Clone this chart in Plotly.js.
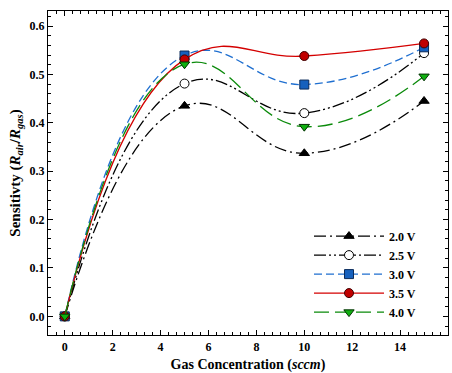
<!DOCTYPE html>
<html><head><meta charset="utf-8">
<script src="https://cdn.plot.ly/plotly-3.0.1.min.js"></script>
<style>html,body{margin:0;padding:0;background:#fff}#chart{width:452px;height:373px}</style>
</head><body><div id="chart"></div>
<script>
const gasConc = [0, 5, 10, 15];
const seriesNames = ["2.0 V", "2.5 V", "3.0 V", "3.5 V", "4.0 V"];
const v20 = [0, 0.435, 0.337, 0.445];
const v25 = [0, 0.481, 0.420, 0.544];
const v30 = [0, 0.539, 0.479, 0.556];
const v35 = [0, 0.531, 0.538, 0.564];
const v40 = [0, 0.521, 0.392, 0.496];
const xTicks = [0, 2, 4, 6, 8, 10, 12, 14, 16];
const yTicks = [0, 0.1, 0.2, 0.3, 0.4, 0.5, 0.6];

const styles = [
  {color:'#000000', dash:'12px,4px,2px,4px', symbol:'triangle-up', fill:'#000000', mline:'#000000'},
  {color:'#000000', dash:'12px,3px,2px,3px,2px,3px', symbol:'circle', fill:'#ffffff', mline:'#000000'},
  {color:'#1f6fd0', dash:'8px,4px', symbol:'square', fill:'#1560bd', mline:'#0a2a5a'},
  {color:'#d40000', dash:'solid', symbol:'circle', fill:'#c00000', mline:'#400000'},
  {color:'#0a8a0a', dash:'15px,6px', symbol:'triangle-down', fill:'#10b010', mline:'#003000'}
];
const values = [v20, v25, v30, v35, v40];
const traces = values.map((v, i) => ({
  x: gasConc, y: v, name: seriesNames[i], type: 'scatter', mode: 'lines+markers',
  line: {color: styles[i].color, width: 1.3, dash: styles[i].dash, shape: 'spline', smoothing: 1.3},
  marker: {symbol: styles[i].symbol, size: 9, color: styles[i].fill, line: {color: styles[i].mline, width: 1}}
}));

const FAM = '"Liberation Serif"';
const font = {family: FAM, size: 12, color: '#000'};
const axisCommon = {
  showline: true, linecolor: '#000', linewidth: 1.2, mirror: 'ticks',
  ticks: 'inside', ticklen: 5, tickwidth: 1, tickcolor: '#000',
  showgrid: false, zeroline: false,
  tickfont: {family: FAM, size: 12, color: '#000', weight: 'bold'}
};
const layout = {
  width: 452, height: 373,
  margin: {l: 48, r: 4, t: 11, b: 38},
  paper_bgcolor: '#fff', plot_bgcolor: '#fff',
  font: font,
  showlegend: true,
  legend: {x: 0.6525, y: 0.35, xanchor: 'left', yanchor: 'top', bgcolor: 'rgba(0,0,0,0)',
           itemwidth: 70, tracegroupgap: 0,
           font: {family: FAM, size: 12, color: '#000', weight: 'bold'}},
  xaxis: Object.assign({}, axisCommon, {
    range: [-0.7, 16], tickvals: xTicks, ticktext: xTicks.map(String),
    minor: {dtick: 1/3, tick0: 0, ticks: 'inside', ticklen: 3, tickcolor: '#000'},
    title: {text: '<b>Gas Concentration (<i>sccm</i>)</b>', font: {family: FAM, size: 14, color: '#000'}, standoff: 6}
  }),
  yaxis: Object.assign({}, axisCommon, {
    range: [-0.0385, 0.631], tickvals: yTicks, ticktext: yTicks.map(t => t.toFixed(1)),
    minor: {dtick: 0.02, tick0: 0, ticks: 'inside', ticklen: 3, tickcolor: '#000'},
    title: {text: '<b>Sensitivty (<i>R</i><sub><i>air</i></sub>/<i>R</i><sub><i>gas</i></sub>)</b>', font: {family: FAM, size: 15, color: '#000'}, standoff: 5}
  })
};
Plotly.newPlot('chart', traces, layout, {displayModeBar: false, staticPlot: true});
</script></body></html>
